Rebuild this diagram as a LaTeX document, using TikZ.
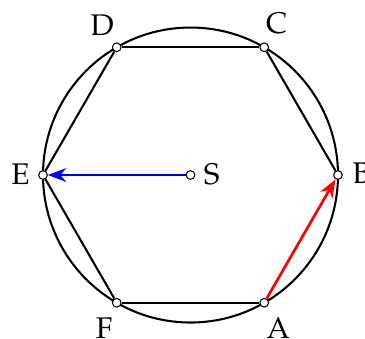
\documentclass[tikz,border=0pt]{standalone}
\usepackage[T1]{fontenc}
\usepackage{mathpazo}
\usepackage{tikz}
\usetikzlibrary{arrows.meta}

\begin{document}
\begin{tikzpicture}[>=Stealth, font=\Large,
  pt/.style={circle, draw, fill=white, inner sep=0pt, minimum size=4.2pt, line width=0.5pt},
  lbl/.style={inner sep=1pt},
  edge/.style={line width=1pt},
  vec/.style={->, line width=1.3pt}
]
\useasboundingbox (-3.229,-2.763) rectangle (2.958,2.967);
% circle round the hexagon, centre S
\coordinate (O) at (0,0);
\draw[edge] (O) circle (2.5);
% vertices
\node[pt] (S) at (O) {};
\node[pt] (A) at (-60:2.5) {};
\node[pt] (B) at (0:2.5) {};
\node[pt] (C) at (60:2.5) {};
\node[pt] (D) at (120:2.5) {};
\node[pt] (E) at (180:2.5) {};
\node[pt] (F) at (240:2.5) {};
% letters
\node[lbl] (lA) at ([shift={(6.8pt,-12.2pt)}]A.center) {A};
\node[lbl] (lB) at ([shift={(11.5pt,0.8pt)}]B.center) {B};
\node[lbl] (lC) at ([shift={(6.0pt,11.5pt)}]C.center) {C};
\node[lbl] (lD) at ([shift={(-7.0pt,10.8pt)}]D.center) {D};
\node[lbl] (lE) at ([shift={(-10.8pt,0.5pt)}]E.center) {E};
\node[lbl] (lF) at ([shift={(-6.1pt,-12.5pt)}]F.center) {F};
\node[lbl] (lS) at ([shift={(10.2pt,0.5pt)}]S.center) {S};
% hexagon
\draw[edge] (B) -- (C);
\draw[edge] (C) -- (D);
\draw[edge] (D) -- (E);
\draw[edge] (E) -- (F);
\draw[edge] (F) -- (A);
% vectors
\draw[vec, red] (A) -- (B);
\draw[vec, blue] (S) -- (E);
\end{tikzpicture}
\end{document}
